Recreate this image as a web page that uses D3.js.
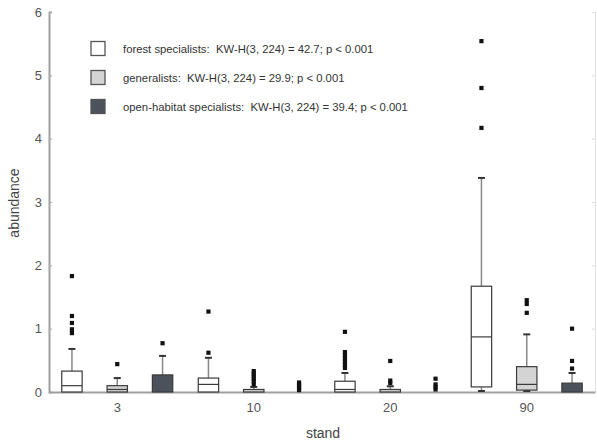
<!DOCTYPE html>
<html><head><meta charset="utf-8">
<script src="https://cdn.jsdelivr.net/npm/d3@7/dist/d3.min.js"></script>
<style>body{margin:0;background:#fff;} text{font-family:Arial,"Liberation Sans",sans-serif;}</style>
</head><body><svg id="c" width="597" height="447"></svg>
<script>
const stands = ["3","10","20","90"];
const seriesNames = ["forest specialists","generalists","open-habitat specialists"];
const legendStats = ["KW-H(3, 224) = 42.7; p < 0.001","KW-H(3, 224) = 29.9; p < 0.001","KW-H(3, 224) = 39.4; p < 0.001"];
const yTicks = [0,1,2,3,4,5,6];
// per stand: [q1, median, q3, whiskerLow, whiskerHigh]
const forestBox = [[0,0.10,0.33,0,0.68],[0,0.12,0.22,0,0.54],[0,0.04,0.17,0,0.30],[0.08,0.87,1.67,0,3.38]];
const forestOut = [[0.93,0.99,1.09,1.20,1.83],[0.62,1.27],[0.38,0.43,0.48,0.53,0.58,0.63,0.95],[4.17,4.80,5.54]];
const generalistBox = [[0,0.04,0.10,0,0.22],[0,0,0.04,0,0.08],[0,0,0.04,0,0.09],[0.03,0.12,0.40,0,0.91]];
const generalistOut = [[0.44],[0.12,0.17,0.21,0.25,0.29,0.33],[0.14,0.18,0.49],[1.25,1.39,1.45]];
const openBox = [[0,0,0.27,0,0.57],[0,0,0,0,0],[0,0,0,0,0],[0,0,0.14,0,0.30]];
const openOut = [[0.77],[0.03,0.06,0.09,0.12,0.15],[0.04,0.08,0.12,0.21],[0.37,0.49,1.0]];

const boxes = [forestBox, generalistBox, openBox];
const outs = [forestOut, generalistOut, openOut];
const fills = ["#ffffff","#d4d4d4","#4c525c"];

const svg = d3.select("#c");
const m = {l:49, r:2, t:12, b:55};
const W = 597, H = 447;
const x = d3.scaleBand().domain(stands).range([m.l, W-m.r]);
const sub = d3.scaleBand().domain(seriesNames).range([-55.5,55.5]).paddingInner(0.55).paddingOuter(0);
const y = d3.scaleLinear().domain([0,6]).range([H-m.b, m.t]);

// right frame (faint)
svg.append("g").attr("transform",`translate(${W-m.r},0)`)
  .call(d3.axisRight(y).tickValues(yTicks).tickSize(-3).tickFormat(""))
  .call(g=>{g.select(".domain").attr("stroke","#e2e2e2").attr("stroke-width",1);g.selectAll(".tick line").attr("stroke","#ddd");});

// y axis
svg.append("g").attr("transform",`translate(${m.l},0)`)
  .call(d3.axisLeft(y).tickValues(yTicks).tickSize(-3).tickPadding(7).tickFormat(d3.format("d")))
  .call(g=>{g.select(".domain").attr("stroke","#a0a0a0").attr("stroke-width",2);
    g.selectAll(".tick line").attr("stroke","#aaa");
    g.selectAll(".tick text").attr("fill","#555").attr("font-size",13);});

// x axis
svg.append("g").attr("transform",`translate(0,${y(0)})`)
  .call(d3.axisBottom(x).tickSize(0).tickPadding(11))
  .call(g=>{g.select(".domain").attr("stroke","#a0a0a0").attr("stroke-width",2);
    g.selectAll(".tick text").attr("fill","#555").attr("font-size",13);});

svg.append("text").attr("x",323).attr("y",438).attr("text-anchor","middle").attr("font-size",14).attr("fill","#444").text("stand");
svg.append("text").attr("transform","translate(19,203) rotate(-90)").attr("text-anchor","middle").attr("font-size",14).attr("fill","#444").text("abundance");

const bw = sub.bandwidth();
seriesNames.forEach((s,si)=>{
  stands.forEach((st,i)=>{
    const [q1,med,q3,wl,wh] = boxes[si][i];
    const cx = x(st) + x.bandwidth()/2 + sub(s) + bw/2;
    const g = svg.append("g");
    if (wh > q3) {
      g.append("line").attr("x1",cx).attr("x2",cx).attr("y1",y(q3)).attr("y2",y(wh)).attr("stroke","#888").attr("stroke-width",1.5);
      g.append("line").attr("x1",cx-3.5).attr("x2",cx+3.5).attr("y1",y(wh)).attr("y2",y(wh)).attr("stroke","#333").attr("stroke-width",2);
    }
    if (wl < q1) {
      g.append("line").attr("x1",cx).attr("x2",cx).attr("y1",y(q1)).attr("y2",y(wl)).attr("stroke","#888").attr("stroke-width",1.5);
      g.append("line").attr("x1",cx-3.5).attr("x2",cx+3.5).attr("y1",y(wl)-1).attr("y2",y(wl)-1).attr("stroke","#333").attr("stroke-width",2);
    }
    if (q3 > q1) {
      g.append("rect").attr("x",cx-bw/2).attr("width",bw).attr("y",y(q3)).attr("height",y(q1)-y(q3))
        .attr("fill",fills[si]).attr("stroke","#3a3a3a").attr("stroke-width",1.2);
      if (med > q1) g.append("line").attr("x1",cx-bw/2).attr("x2",cx+bw/2).attr("y1",y(med)).attr("y2",y(med)).attr("stroke","#3a3a3a").attr("stroke-width",1.2);
    }
    outs[si][i].forEach(v=>{
      g.append("rect").attr("x",cx-2.1).attr("y",y(v)-2.1).attr("width",4.2).attr("height",4.2).attr("fill","#111");
    });
  });
});

// legend
const ly = d3.scaleBand().domain(seriesNames).range([34,121]);
seriesNames.forEach((s,i)=>{
  const cy = ly(s) + ly.bandwidth()/2;
  svg.append("rect").attr("x",91).attr("y",cy-7).attr("width",14).attr("height",14).attr("fill",fills[i]).attr("stroke","#555").attr("stroke-width",1.3);
  svg.append("text").attr("x",123).attr("y",cy+4).attr("font-size",11.3).attr("fill","#333")
    .attr("xml:space","preserve").text(s + ":  " + legendStats[i]);
});
</script></body></html>
